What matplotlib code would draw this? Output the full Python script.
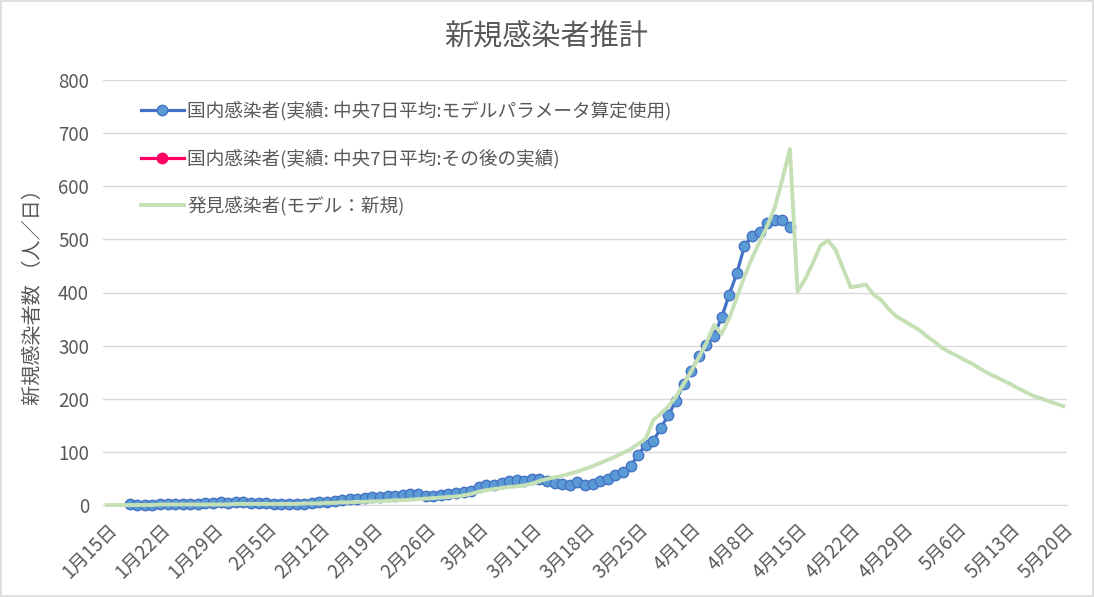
import numpy as np
import matplotlib.pyplot as plt
from matplotlib.patches import Rectangle
from matplotlib.lines import Line2D

plt.rcParams['font.family'] = ['Noto Sans CJK JP', 'DejaVu Sans']

title = "新規感染者推計"
ylabel = "新規感染者数 （人／日）"
label_blue = "国内感染者(実績: 中央7日平均:モデルパラメータ算定使用)"
label_pink = "国内感染者(実績: 中央7日平均:その後の実績)"
label_green = "発見感染者(モデル：新規)"

tick_labels = ["1月15日", "1月22日", "1月29日", "2月5日", "2月12日", "2月19日", "2月26日",
               "3月4日", "3月11日", "3月18日", "3月25日", "4月1日", "4月8日", "4月15日",
               "4月22日", "4月29日", "5月6日", "5月13日", "5月20日"]

# day index 0 = 1月15日
blue_start = 3  # 1月18日
blue = [1, 0, 0, 0, 1, 1, 1, 1, 2, 2,
        3, 4, 5, 4, 5, 5, 4, 3, 3, 2,
        2, 2, 2, 2, 3, 5, 6, 7, 9, 11,
        12, 14, 16, 16, 17, 17, 19, 21, 21, 17,
        17, 19, 21, 22, 24, 27, 33, 37, 37, 42,
        46, 48, 45, 49, 49, 46, 42, 40, 38, 43,
        38, 40, 45, 49, 56, 63, 73, 95, 113, 121,
        145, 170, 196, 228, 253, 280, 302, 319, 353, 396,
        436, 487, 506, 513, 531, 537, 536, 523]
pink = []  # no points shown
green = [0, 0, 0, 0, 0, 0, 0, 1, 1, 1,
         1, 1, 1, 1, 1, 1, 1, 2, 2, 2,
         2, 2, 2, 2, 2, 2, 3, 3, 3, 4,
         4, 5, 5, 6, 6, 7, 7, 8, 9, 9,
         10, 11, 12, 13, 14, 15, 16, 18, 21, 25,
         28, 30, 32, 34, 35, 37, 40, 45, 49, 52,
         55, 59, 63, 68, 73, 79, 85, 91, 98, 105,
         115, 125, 160, 172, 186, 204, 228, 252, 278, 305,
         339, 322, 352, 390, 430, 465, 495, 525, 560, 613,
         670, 402, 425, 455, 488, 498, 481, 445, 410, 412,
         415, 396, 386, 369, 355, 347, 338, 330, 318, 308,
         296, 288, 281, 273, 266, 257, 249, 242, 235, 228,
         220, 213, 206, 201, 196, 191, 186]

x_green = np.arange(len(green))
x_blue = np.arange(blue_start, blue_start + len(blue))
tick_pos = np.arange(0, len(green), 7)

text_col = '#595959'

fig = plt.figure(figsize=(10.94, 5.97), dpi=100)
fig.patches.append(Rectangle((0.001, 0.001), 0.998, 0.997, transform=fig.transFigure,
                             fill=False, edgecolor='#D9D9D9', lw=1.2))
ax = fig.add_axes([103 / 1094, 92 / 597, 964 / 1094, 425 / 597])

ax.plot(x_blue, blue, color='#4472C4', lw=2.3, marker='o', ms=7.5,
        mfc='#5B9BD5', mec='#4472C4', mew=1.0, clip_on=False, zorder=3)
ax.plot(x_green, green, color='#C5E0B4', lw=2.8, zorder=4, clip_on=False)
ax.plot(np.arange(len(pink)), pink, color='#FF0066', lw=2.3, marker='o', ms=7.5)

ax.set_xlim(-0.5, len(green) - 0.5)
ax.set_ylim(0, 800)
ax.set_yticks(np.arange(0, 801, 100))
ax.set_xticks(tick_pos)
ax.set_xticklabels(tick_labels, rotation=45, ha='right', va='top', rotation_mode='anchor')
ax.tick_params(axis='both', length=0, labelsize=13.5, colors=text_col)
ax.tick_params(axis='x', pad=10)
ax.tick_params(axis='y', pad=10)
ax.grid(axis='y', color='#D9D9D9', lw=1)
ax.set_axisbelow(True)
for s in ['top', 'right', 'left']:
    ax.spines[s].set_visible(False)
ax.spines['bottom'].set_color('#D9D9D9')

ax.set_ylabel(ylabel, fontsize=14.5, color=text_col, labelpad=10)
fig.text(546 / 1094, 1 - 38 / 597, title, fontsize=21, color=text_col, ha='center', va='center')

handles = [
    Line2D([], [], color='#4472C4', lw=2.3, marker='o', ms=7.5, mfc='#5B9BD5', mec='#4472C4'),
    Line2D([], [], color='#FF0066', lw=2.3, marker='o', ms=7.5, mfc='#FF0066', mec='#FF0066'),
    Line2D([], [], color='#C5E0B4', lw=2.8),
]
leg = ax.legend(handles, [label_blue, label_pink, label_green], loc='upper left',
                bbox_to_anchor=(0.022, 0.99), frameon=False, fontsize=13.4,
                labelspacing=1.5, handlelength=2.3, handletextpad=0.2)
for t in leg.get_texts():
    t.set_color(text_col)

fig.savefig('out.png', dpi=100)
